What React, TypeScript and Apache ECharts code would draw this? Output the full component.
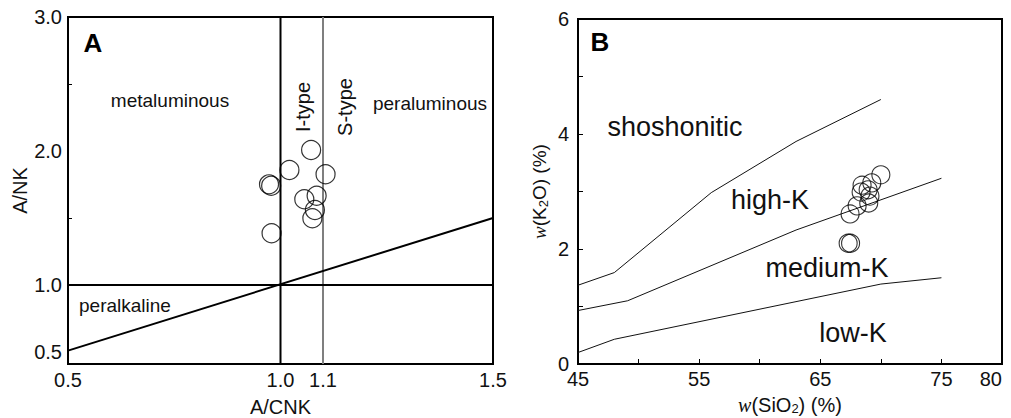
import React, { useEffect, useRef } from "react";
import * as echarts from "echarts";

// ---------- Panel A data ----------
const aXLabels = [0.5, 1.0, 1.1, 1.5];
const aYLabels = [0.5, 1.0, 2.0, 3.0];
const aYTicks = [1.5, 2.5];
const aSamples: [number, number][] = [
  [1.072, 2.007],
  [1.021, 1.858],
  [1.106, 1.826],
  [0.973, 1.751],
  [0.978, 1.741],
  [1.056, 1.64],
  [1.085, 1.666],
  [1.081, 1.56],
  [1.075, 1.498],
  [0.979, 1.386],
];
const aLineACNK1: [number, number][] = [
  [1.0, 0.41],
  [1.0, 3.0],
];
const aLineIS: [number, number][] = [
  [1.1, 0.41],
  [1.1, 3.0],
];
const aLineANK1: [number, number][] = [
  [0.5, 1.0],
  [1.5, 1.0],
];
const aLineDiag: [number, number][] = [
  [0.5, 0.51],
  [1.5, 1.5],
];

// ---------- Panel B data ----------
const bXLabels = [45, 55, 65, 75, 80];
const bXTicks = [50, 55, 60, 65, 70, 75];
const bYLabels = [0, 2, 4, 6];
const bYTicks = [1, 2, 3, 4, 5];
const bShoshonitic: [number, number][] = [
  [45, 1.37],
  [48, 1.59],
  [56, 2.98],
  [63, 3.87],
  [70, 4.6],
];
const bHighK: [number, number][] = [
  [45, 0.93],
  [49.1, 1.1],
  [63, 2.33],
  [75, 3.23],
];
const bMediumK: [number, number][] = [
  [45, 0.2],
  [48, 0.43],
  [70, 1.39],
  [75, 1.5],
];
const bSamples: [number, number][] = [
  [70.0, 3.29],
  [69.25, 3.15],
  [68.45, 3.11],
  [68.95, 3.03],
  [68.37, 2.99],
  [69.1, 2.92],
  [69.0, 2.8],
  [68.04, 2.75],
  [67.46, 2.61],
  [67.3, 2.1],
  [67.5, 2.1],
];

const SANS = '"Liberation Sans", Arial, Helvetica, sans-serif';
const SERIF = '"Liberation Serif", "Times New Roman", serif';

export default function App() {
  const ref = useRef<HTMLDivElement>(null);
  useEffect(() => {
    if (!ref.current) return;
    const chart = echarts.init(ref.current, null, { renderer: "svg" });

    const lineStyleSeries = (
      data: [number, number][],
      idx: number,
      color: string,
      width: number
    ) => ({
      type: "line",
      xAxisIndex: idx,
      yAxisIndex: idx,
      data,
      showSymbol: false,
      symbol: "none",
      silent: true,
      lineStyle: { color, width },
      z: 2,
    });

    const tickLabel = { fontFamily: SANS, fontSize: 20, color: "#111" };

    const option: any = {
      animation: false,
      backgroundColor: "#ffffff",
      grid: [
        {
          left: 68,
          top: 17,
          width: 425,
          height: 347,
          show: true,
          borderColor: "#000",
          borderWidth: 2,
          backgroundColor: "transparent",
          containLabel: false,
          outerBoundsMode: "none",
        },
        {
          left: 578,
          top: 19,
          width: 424,
          height: 345,
          show: true,
          borderColor: "#000",
          borderWidth: 2,
          backgroundColor: "transparent",
          containLabel: false,
          outerBoundsMode: "none",
        },
      ],
      xAxis: [
        {
          type: "value",
          gridIndex: 0,
          min: 0.5,
          max: 1.5,
          axisLine: { show: false },
          splitLine: { show: false },
          axisTick: { show: false },
          axisLabel: {
            ...tickLabel,
            customValues: aXLabels,
            formatter: (v: number) => v.toFixed(1),
            margin: 6,
          },
          name: "A/CNK",
          nameLocation: "middle",
          nameGap: 33,
          nameTextStyle: { fontFamily: SANS, fontSize: 20, color: "#111" },
        },
        {
          type: "value",
          gridIndex: 1,
          min: 45,
          max: 80,
          axisLine: { show: false },
          splitLine: { show: false },
          axisTick: {
            show: true,
            inside: true,
            length: 5,
            customValues: bXTicks,
            lineStyle: { color: "#000", width: 1 },
          },
          axisLabel: { ...tickLabel, customValues: bXLabels, margin: 5, alignMaxLabel: "right" },
          name: "{i|w}(SiO{s|2}) (%)",
          nameLocation: "middle",
          nameGap: 30,
          nameTextStyle: {
            fontFamily: SANS,
            fontSize: 20,
            color: "#111",
            rich: {
              i: { fontFamily: SERIF, fontStyle: "italic", fontSize: 20, color: "#111" },
              s: { fontFamily: SANS, fontSize: 13, color: "#111", padding: [8, 0, 0, 0] },
            },
          },
        },
      ],
      yAxis: [
        {
          type: "value",
          gridIndex: 0,
          min: 0.41,
          max: 3.0,
          axisLine: { show: false },
          splitLine: { show: false },
          axisTick: {
            show: true,
            inside: true,
            length: 4,
            customValues: aYTicks,
            lineStyle: { color: "#000", width: 1 },
          },
          axisLabel: {
            ...tickLabel,
            customValues: aYLabels,
            formatter: (v: number) => v.toFixed(1),
            margin: 6,
          },
          name: "A/NK",
          nameLocation: "middle",
          nameGap: 32,
          nameRotate: 90,
          nameTextStyle: { fontFamily: SANS, fontSize: 20, color: "#111" },
        },
        {
          type: "value",
          gridIndex: 1,
          min: 0,
          max: 6,
          axisLine: { show: false },
          splitLine: { show: false },
          axisTick: {
            show: true,
            inside: true,
            length: 5,
            customValues: bYTicks,
            lineStyle: { color: "#000", width: 1 },
          },
          axisLabel: { ...tickLabel, customValues: bYLabels, margin: 9 },
          name: "{i|w}(K{s|2}O) (%)",
          nameLocation: "middle",
          nameGap: 28,
          nameRotate: 90,
          nameTextStyle: {
            fontFamily: SANS,
            fontSize: 19,
            color: "#111",
            rich: {
              i: { fontFamily: SERIF, fontStyle: "italic", fontSize: 19, color: "#111" },
              s: { fontFamily: SANS, fontSize: 13, color: "#111", padding: [9, 0, 0, 0] },
            },
          },
        },
      ],
      series: [
        lineStyleSeries(aLineACNK1, 0, "#000", 2),
        lineStyleSeries(aLineIS, 0, "#7f7f7f", 2),
        lineStyleSeries(aLineANK1, 0, "#000", 2),
        lineStyleSeries(aLineDiag, 0, "#000", 2),
        {
          type: "scatter",
          xAxisIndex: 0,
          yAxisIndex: 0,
          data: aSamples,
          symbol: "circle",
          symbolSize: 19,
          itemStyle: { color: "rgba(0,0,0,0)", borderColor: "#000", borderWidth: 1.2 },
          z: 3,
        },
        lineStyleSeries(bShoshonitic, 1, "#111", 1),
        lineStyleSeries(bHighK, 1, "#111", 1),
        lineStyleSeries(bMediumK, 1, "#111", 1),
        {
          type: "scatter",
          xAxisIndex: 1,
          yAxisIndex: 1,
          data: bSamples,
          symbol: "circle",
          symbolSize: 18,
          itemStyle: { color: "rgba(0,0,0,0)", borderColor: "#000", borderWidth: 1.1 },
          z: 3,
        },
      ],
      graphic: [
        { type: "text", x: 93, y: 43, style: { text: "A", font: `bold 26px ${SANS}`, fill: "#000", align: "center", verticalAlign: "middle" } },
        { type: "text", x: 170, y: 100, style: { text: "metaluminous", font: `19px ${SANS}`, fill: "#111", align: "center", verticalAlign: "middle" } },
        { type: "text", x: 430, y: 103, style: { text: "peraluminous", font: `19px ${SANS}`, fill: "#111", align: "center", verticalAlign: "middle" } },
        { type: "text", x: 303, y: 107, rotation: Math.PI / 2, style: { text: "I-type", font: `20px ${SANS}`, fill: "#111", align: "center", verticalAlign: "middle" } },
        { type: "text", x: 345, y: 107, rotation: Math.PI / 2, style: { text: "S-type", font: `20px ${SANS}`, fill: "#111", align: "center", verticalAlign: "middle" } },
        { type: "text", x: 125, y: 305, style: { text: "peralkaline", font: `19px ${SANS}`, fill: "#111", align: "center", verticalAlign: "middle" } },
        { type: "text", x: 600, y: 42, style: { text: "B", font: `bold 26px ${SANS}`, fill: "#000", align: "center", verticalAlign: "middle" } },
        { type: "text", x: 675, y: 127, style: { text: "shoshonitic", font: `27px ${SANS}`, fill: "#111", align: "center", verticalAlign: "middle" } },
        { type: "text", x: 770, y: 200, style: { text: "high-K", font: `27px ${SANS}`, fill: "#111", align: "center", verticalAlign: "middle" } },
        { type: "text", x: 827, y: 268, style: { text: "medium-K", font: `27px ${SANS}`, fill: "#111", align: "center", verticalAlign: "middle" } },
        { type: "text", x: 853, y: 333, style: { text: "low-K", font: `27px ${SANS}`, fill: "#111", align: "center", verticalAlign: "middle" } },
      ],
    };

    chart.setOption(option);
    return () => chart.dispose();
  }, []);

  return (
    <div
      ref={ref}
      style={{ position: "absolute", left: 0, top: 0, width: 1011, height: 418, background: "#fff" }}
    />
  );
}
